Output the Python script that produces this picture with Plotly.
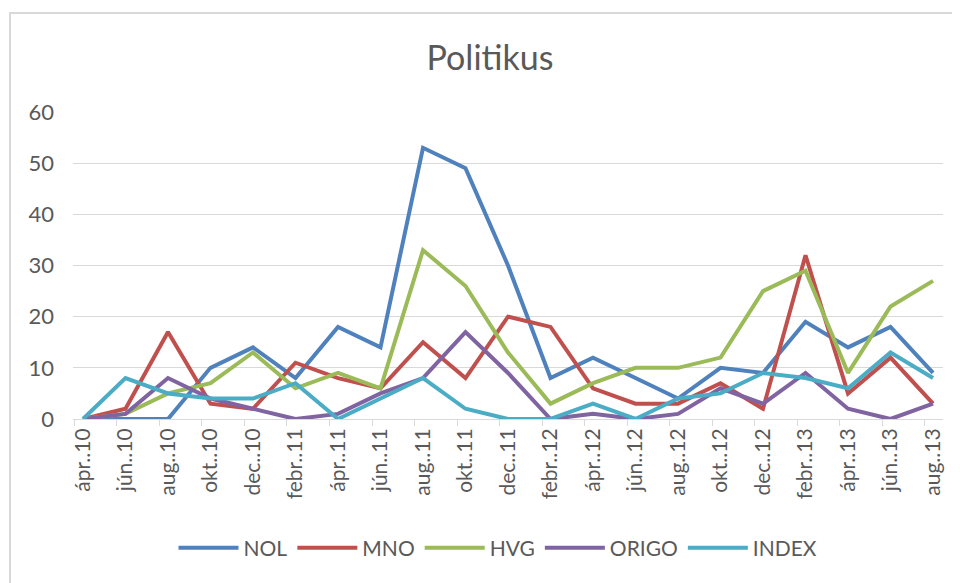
import plotly.graph_objects as go

categories = ["ápr..10", "jún..10", "aug..10", "okt..10", "dec..10", "febr..11", "ápr..11",
              "jún..11", "aug..11", "okt..11", "dec..11", "febr..12", "ápr..12", "jún..12",
              "aug..12", "okt..12", "dec..12", "febr..13", "ápr..13", "jún..13", "aug..13"]

nol = [0, 0, 0, 10, 14, 8, 18, 14, 53, 49, 30, 8, 12, 8, 4, 10, 9, 19, 14, 18, 9]
mno = [0, 2, 17, 3, 2, 11, 8, 6, 15, 8, 20, 18, 6, 3, 3, 7, 2, 32, 5, 12, 3]
hvg = [0, 1, 5, 7, 13, 6, 9, 6, 33, 26, 13, 3, 7, 10, 10, 12, 25, 29, 9, 22, 27]
origo = [0, 1, 8, 4, 2, 0, 1, 5, 8, 17, 9, 0, 1, 0, 1, 6, 3, 9, 2, 0, 3]
index_ = [0, 8, 5, 4, 4, 7, 0, 4, 8, 2, 0, 0, 3, 0, 4, 5, 9, 8, 6, 13, 8]

series = [("NOL", nol, "#4F81BD"), ("MNO", mno, "#C0504D"), ("HVG", hvg, "#9BBB59"),
          ("ORIGO", origo, "#8064A2"), ("INDEX", index_, "#4BACC6")]

x = list(range(len(categories)))
FONT = "Lato, Carlito, Calibri, sans-serif"
GREY = "#595959"

fig = go.Figure()
for name, vals, color in series:
    fig.add_trace(go.Scatter(x=x, y=vals, mode="lines", name=name,
                             line=dict(color=color, width=4), cliponaxis=False))

# page body has an 8px margin, so the figure is placed at (8, 8) in the window
OFF = 8
W, H = 960 - OFF, 583 - OFF
L, R, T, B = 73 - OFF, 943 - OFF, 112 - OFF, 419 - OFF
pw, ph = R - L, B - T

fig.update_layout(
    width=W, height=H,
    margin=dict(l=L, r=W - R, t=T, b=H - B, autoexpand=False),
    paper_bgcolor="white", plot_bgcolor="white",
    font=dict(family=FONT, color=GREY),
    title=dict(text="Politikus", x=(490 - OFF) / W, xanchor="center",
               y=1 - (58 - OFF) / H, yanchor="middle",
               yref="container", font=dict(size=34, color=GREY, family=FONT)),
    showlegend=True,
    legend=dict(orientation="h", x=(498 - 73) / pw, xanchor="center",
                y=(419 - 548) / ph, yanchor="middle", font=dict(size=21, color=GREY),
                itemwidth=60, tracegroupgap=0),
    xaxis=dict(range=[-0.235, 20.235], tickmode="array", tickvals=x, ticktext=categories,
               tickangle=-90, ticks="", showgrid=False, zeroline=False,
               showline=True, linecolor="#d9d9d9", linewidth=1, automargin=False,
               tickfont=dict(size=21, color=GREY),
               minor=dict(ticks="outside", tick0=-0.2, dtick=1, ticklen=6,
                          tickcolor="#d9d9d9", tickwidth=1, showgrid=False)),
    yaxis=dict(range=[0, 60], tickmode="array", tickvals=[0, 10, 20, 30, 40, 50, 60],
               showgrid=True, gridcolor="#d9d9d9", gridwidth=1, zeroline=False,
               showline=False, ticks="", tickfont=dict(size=22, color=GREY),
               ticklabelstandoff=18, automargin=False),
    shapes=[dict(type="rect", xref="paper", yref="paper",
                 x0=(10 - 73) / pw, x1=1.2, y0=-0.8, y1=(419 - 13) / ph,
                 line=dict(color="#d9d9d9", width=2), fillcolor="rgba(0,0,0,0)", layer="below")],
)

fig.write_html("out.html")
